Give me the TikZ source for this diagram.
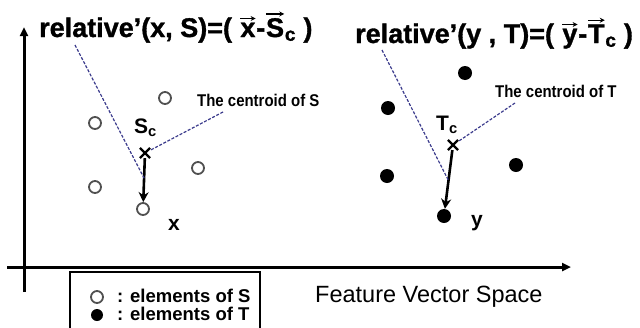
\documentclass[tikz,border=0pt]{standalone}
\usepackage{amsmath}
\usepackage{fontspec}
\setmainfont{Liberation Sans}
\newfontfamily\headfont[FakeBold=1.2]{Liberation Sans Bold}
\newfontfamily\notefont[FakeStretch=0.88]{Liberation Sans Bold}
\usetikzlibrary{arrows.meta, positioning, calc, shapes.misc}
\definecolor{calloutBlue}{HTML}{3B3B8C}
\definecolor{hollowGray}{HTML}{505050}
% letter with an arrow drawn over it
\newcommand{\vecof}[1]{\tikz[baseline=(v.base)]{%
  \node[inner sep=0pt] (v) {#1};
  \draw[line width=1.3pt, -{Stealth[length=5pt, width=5pt]}]
    ([yshift=4pt]v.north west) -- ([yshift=4pt]v.north east);}}

\tikzset{
  axisline/.style={line width=3pt, -{Triangle[length=9pt, width=8pt]}},
  selem/.style={circle, draw=hollowGray, line width=1.8pt, fill=white,
                minimum width=12pt, minimum height=11pt, inner sep=0pt},
  telem/.style={circle, fill=black, minimum size=14pt, inner sep=0pt},
  centroid/.style={cross out, draw=black, line width=2.2pt, minimum size=8pt, inner sep=0pt},
  relarrow/.style={line width=2.6pt, -{Stealth[length=10pt, width=10pt]}},
  callout/.style={draw=calloutBlue, line width=1.2pt, dash pattern=on 3pt off 1.6pt},
  heading/.style={anchor=base west, inner sep=0pt, font=\fontsize{27}{29}\headfont},
  note/.style={anchor=base west, inner sep=0pt, font=\fontsize{17}{19}\notefont},
  ptlabel/.style={anchor=base west, inner sep=0pt, font=\fontsize{21}{23}\selectfont\bfseries},
}

\begin{document}
\begin{tikzpicture}[x=1pt, y=-1pt]
  \useasboundingbox (0,0) rectangle (640,327);

  % axes of the feature space
  \coordinate (ybot) at (24,292);
  \coordinate (ytop) at (24,27);
  \coordinate (xleft) at (7,267);
  \coordinate (xright) at (571,267);
  \draw[axisline] (ybot) -- (ytop);
  \draw[axisline] (xleft) -- (xright);

  % set S
  \node[selem] (s1) at (165,98) {};
  \node[selem] (s2) at (95,123) {};
  \node[selem] (s3) at (95,187) {};
  \node[selem] (s4) at (198,168) {};
  \node[selem] (xs) at (143,209) {};
  \node[centroid] (sc) at (145,153) {};
  \draw[relarrow] (sc) -- (xs);

  % set T
  \node[telem] (t1) at (465,73) {};
  \node[telem] (t2) at (388,108) {};
  \node[telem] (t3) at (387,176) {};
  \node[telem] (t4) at (516,165) {};
  \node[telem] (yt) at (444,216) {};
  \node[centroid] (tc) at (453,145) {};
  \draw[relarrow] (tc) -- (yt);

  % headings
  \node[heading] (headS) at (39,37)
    {relative’(x, S)=( \vecof{x}-\vecof{S}\textsubscript{c} )};
  \node[heading] (headT) at (355,43)
    {relative’(y , T)=( \vecof{y}-\vecof{T}\textsubscript{c} )};

  % labels
  \node[ptlabel] (scLabel) at (134,133) {S\textsubscript{c}};
  \node[ptlabel] (tcLabel) at (436,130) {T\textsubscript{c}};
  \node[ptlabel] (xLabel) at (168,230) {x};
  \node[ptlabel] (yLabel) at (471,226) {y};
  \node[note] (noteS) at (197,106) {The centroid of S};
  \node[note] (noteT) at (495,97) {The centroid of T};

  % callouts
  \coordinate (sHeadFoot) at (75,45);
  \coordinate (sMid) at ($(sc)!0.45!(xs)$);
  \draw[callout] (sHeadFoot) -- (sMid);
  \coordinate (sNoteFoot) at (223,112);
  \draw[callout] (sNoteFoot) -- (sc);
  \coordinate (tHeadFoot) at (382,50);
  \coordinate (tMid) at ($(tc)!0.5!(yt)$);
  \draw[callout] (tHeadFoot) -- (tMid);
  \coordinate (tNoteFoot) at (515,103);
  \draw[callout] (tNoteFoot) -- (tc);

  % legend
  \draw[line width=1.2pt] (70,272) rectangle (260,340);
  \node[selem] (legS) at (97,297) {};
  \node[telem, minimum size=12pt] (legT) at (97,315) {};
  \node[anchor=north west, inner sep=0pt, align=left,
        font=\fontsize{18.5}{17.5}\selectfont\bfseries] (legText) at (117,289)
    {: elements of S\\: elements of T};

  \node[anchor=base west, inner sep=0pt, font=\fontsize{23.5}{25}\selectfont]
    (space) at (315,302) {Feature Vector Space};
\end{tikzpicture}
\end{document}
